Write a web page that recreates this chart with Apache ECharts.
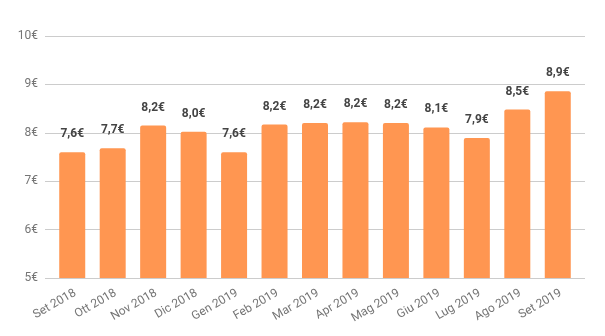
<!DOCTYPE html>
<html><head><meta charset="utf-8">
<script src="https://cdn.jsdelivr.net/npm/echarts@6/dist/echarts.min.js"></script>
<style>html,body{margin:0;padding:0;background:#fff}#c{width:605px;height:336px}</style>
</head><body><div id="c"></div>
<script>
var categories = ['Set 2018','Ott 2018','Nov 2018','Dic 2018','Gen 2019','Feb 2019','Mar 2019','Apr 2019','Mag 2019','Giu 2019','Lug 2019','Ago 2019','Set 2019'];
var values = [7.6, 7.68, 8.15, 8.02, 7.6, 8.17, 8.2, 8.22, 8.2, 8.11, 7.89, 8.48, 8.86];
var yTicks = [5, 6, 7, 8, 9, 10];

var chart = echarts.init(document.getElementById('c'), null, {renderer:'canvas'});
var font = 'Roboto';
chart.setOption({
  animation: false,
  textStyle: {fontFamily: font},
  grid: [
    {left: 45, right: 20, top: 36, bottom: 58},
    {left: 52, right: 27, top: 36, bottom: 58}
  ],
  xAxis: [
    {gridIndex: 0, type: 'category', data: categories, show: false},
    {gridIndex: 1, type: 'category', data: categories,
     axisLine: {show: false}, axisTick: {show: false},
     axisLabel: {rotate: 30, margin: 9, color: '#757575', fontSize: 12, fontFamily: font, interval: 0, verticalAlign: 'top'}}
  ],
  yAxis: [
    {gridIndex: 0, type: 'value', min: yTicks[0], max: yTicks[yTicks.length-1], interval: 1,
     axisLine: {show: false}, axisTick: {show: false},
     splitLine: {lineStyle: {color: '#cccccc', width: 1}},
     axisLabel: {margin: 7, color: '#757575', fontSize: 12, fontFamily: font, formatter: function(v){return v + '€';}}},
    {gridIndex: 1, type: 'value', min: yTicks[0], max: yTicks[yTicks.length-1], interval: 1, show: false}
  ],
  series: [{
    type: 'bar', xAxisIndex: 1, yAxisIndex: 1, data: values, barWidth: 26,
    itemStyle: {color: '#ff9651', borderRadius: [2, 2, 0, 0]},
    label: {show: true, position: 'top', distance: 12, color: '#444444', fontWeight: 'bold', fontSize: 12, fontFamily: font,
      formatter: function(p){return p.value.toFixed(1).replace('.', ',') + '€';}}
  }]
});
</script></body></html>
